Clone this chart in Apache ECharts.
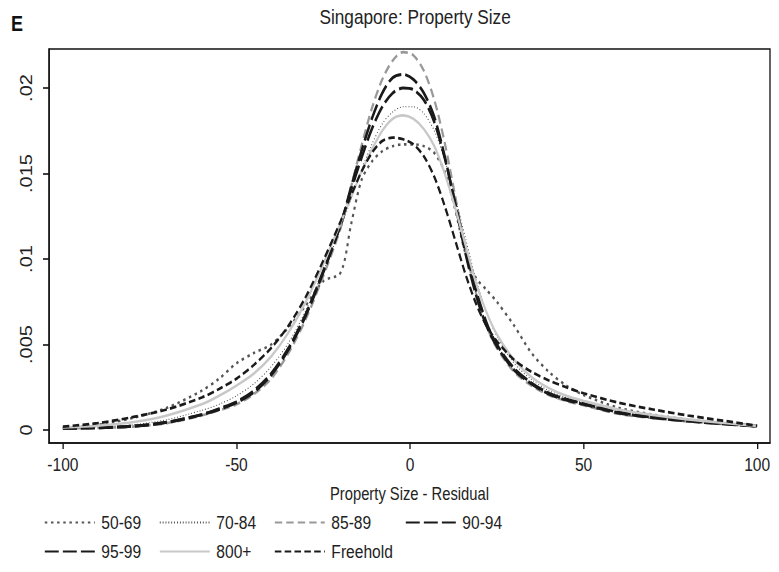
<!DOCTYPE html>
<html>
<head>
<meta charset="utf-8">
<title>Singapore: Property Size</title>
<script src="https://cdn.jsdelivr.net/npm/echarts@6/dist/echarts.min.js"></script>
<style>
  html, body { margin: 0; padding: 0; background: #fff; overflow: hidden; width: 779px; height: 572px; }
  /* The figure is laid out wide and compressed horizontally, which gives the
     tall, narrow lettering of the printed graph. */
  #chart { height: 572px; transform-origin: 0 0; }
</style>
</head>
<body>
<div id="chart"></div>
<script>
// Kernel density of the property-size residual, by lease group.
// Densities are stored in thousandths (x 1e-3).
const residual = [-100, -90, -80, -70, -60, -55, -50, -45, -40, -35, -30, -25, -20, -17, -14, -11, -8, -5, -2, 1, 4, 7, 10, 13, 16, 19, 22, 25, 30, 35, 40, 45, 50, 60, 70, 80, 90, 100];

const d50_69   = [0.12, 0.3, 0.7, 1.3, 2.3, 3.0, 3.9, 4.5, 5.0, 6.0, 7.3, 8.7, 9.2, 12.0, 14.6, 15.7, 16.3, 16.6, 16.7, 16.7, 16.6, 16.2, 15.1, 12.9, 10.3, 8.9, 8.2, 7.5, 6.1, 4.5, 3.4, 2.6, 2.05, 1.3, 0.9, 0.6, 0.4, 0.2];
const d70_84   = [0.12, 0.18, 0.3, 0.6, 1.15, 1.5, 2.0, 2.7, 3.7, 5.1, 7.0, 9.3, 11.8, 13.5, 15.2, 16.7, 17.9, 18.6, 18.9, 18.9, 18.5, 17.5, 15.8, 13.6, 11.2, 8.8, 6.9, 5.5, 3.9, 2.95, 2.3, 1.9, 1.6, 1.1, 0.8, 0.55, 0.4, 0.22];
const d85_89   = [0.1, 0.12, 0.2, 0.4, 0.85, 1.15, 1.5, 2.1, 3.0, 4.5, 6.5, 9.0, 11.8, 14.2, 16.6, 18.8, 20.5, 21.6, 22.1, 21.9, 21.0, 19.3, 16.8, 13.7, 10.6, 8.0, 6.1, 4.8, 3.4, 2.6, 2.05, 1.7, 1.45, 0.95, 0.7, 0.5, 0.35, 0.22];
const d90_94   = [0.1, 0.13, 0.22, 0.45, 0.9, 1.2, 1.6, 2.2, 3.2, 4.7, 6.7, 9.2, 12.0, 14.2, 16.3, 18.2, 19.7, 20.6, 20.8, 20.5, 19.7, 18.3, 16.0, 13.2, 10.3, 7.9, 6.1, 4.9, 3.5, 2.7, 2.1, 1.75, 1.5, 1.0, 0.72, 0.52, 0.36, 0.22];
const d95_99   = [0.1, 0.13, 0.22, 0.45, 0.9, 1.25, 1.65, 2.3, 3.3, 4.8, 6.8, 9.3, 12.0, 14.0, 15.9, 17.6, 18.9, 19.7, 20.0, 19.9, 19.3, 18.0, 15.9, 13.3, 10.6, 8.2, 6.3, 5.0, 3.6, 2.75, 2.15, 1.8, 1.55, 1.05, 0.75, 0.55, 0.38, 0.23];
const d800     = [0.15, 0.25, 0.45, 0.85, 1.5, 2.0, 2.6, 3.3, 4.3, 5.7, 7.5, 9.7, 12.1, 13.6, 15.1, 16.4, 17.5, 18.2, 18.4, 18.2, 17.6, 16.6, 15.0, 13.0, 10.8, 8.6, 6.9, 5.6, 4.1, 3.1, 2.45, 2.0, 1.7, 1.2, 0.88, 0.62, 0.42, 0.24];
const dFree    = [0.2, 0.4, 0.75, 1.2, 1.9, 2.4, 3.0, 3.8, 4.8, 6.1, 7.8, 9.9, 12.2, 13.7, 15.1, 16.2, 16.9, 17.1, 17.0, 16.7, 16.0, 14.8, 13.1, 11.1, 9.1, 7.4, 6.1, 5.2, 4.1, 3.4, 2.9, 2.5, 2.15, 1.6, 1.2, 0.85, 0.55, 0.25];

const xTicks = [-100, -50, 0, 50, 100];
const yTicks = [0, 0.005, 0.01, 0.015, 0.02];

// Horizontal compression of the whole figure; layout numbers below are
// given in final (on-screen) pixels and converted with sx().
const SX = 0.82;
const PAGE_W = 779;
const sx = v => v / SX;

const el = document.getElementById('chart');
el.style.width = sx(PAGE_W) + 'px';
el.style.transform = 'scaleX(' + SX + ')';

// Stata-like labels: drop the leading zero (".005")
const fmtY = v => (v === 0 ? '0' : String(+v.toFixed(3)).replace(/^0\./, '.'));

const groups = [
  { name: '50-69',    data: d50_69, color: '#555555', width: 2.6, type: [3, 4.5] },
  { name: '70-84',    data: d70_84, color: '#333333', width: 1.1, type: [1, 2.5] },
  { name: '85-89',    data: d85_89, color: '#999999', width: 2.7, type: [9, 5] },
  { name: '90-94',    data: d90_94, color: '#1a1a1a', width: 3,   type: [17, 5] },
  { name: '95-99',    data: d95_99, color: '#1a1a1a', width: 3,   type: [17, 5] },
  { name: '800+',     data: d800,   color: '#c8c8c8', width: 2.6, type: 'solid' },
  { name: 'Freehold', data: dFree,  color: '#1a1a1a', width: 2.7, type: [8, 4] }
];

const FONT = "'Liberation Sans', Arial, Helvetica, sans-serif";

const series = groups.map(g => ({
  name: g.name,
  type: 'line',
  smooth: 0.3,
  symbol: 'none',
  showSymbol: false,
  animation: false,
  data: residual.map((x, i) => [x, g.data[i] * 1e-3]),
  lineStyle: { color: g.color, width: g.width, type: g.type, cap: 'butt' },
  itemStyle: { color: g.color }
}));

const legendCol = (left, names) => ({
  orient: 'vertical',
  left: sx(left),
  top: 513,
  padding: 0,
  itemWidth: sx(50),
  itemHeight: 14,
  itemGap: 10,
  data: names,
  itemStyle: { opacity: 0 },
  textStyle: { fontFamily: FONT, fontSize: 19, color: '#222', padding: [0, 0, 0, 3] },
  selectedMode: false
});

const chart = echarts.init(el, null, { renderer: 'svg' });
chart.setOption({
  backgroundColor: '#ffffff',
  animation: false,
  title: [
    {
      text: 'Singapore: Property Size',
      left: sx(411),
      top: 1,
      textAlign: 'center',
      textStyle: { fontFamily: FONT, fontSize: 21, fontWeight: 'normal', color: '#222' }
    },
    {
      text: 'E',
      left: sx(7),
      top: 7,
      textStyle: { fontFamily: FONT, fontSize: 22, fontWeight: 'bold', color: '#111' }
    }
  ],
  legend: [
    legendCol(44, ['50-69', '95-99']),
    legendCol(159, ['70-84', '800+']),
    legendCol(274, ['85-89', 'Freehold']),
    legendCol(405, ['90-94'])
  ],
  grid: {
    left: sx(49), right: sx(9), top: 49, bottom: 129,
    show: true, borderColor: '#111', borderWidth: 1.6, backgroundColor: '#fff'
  },
  xAxis: {
    type: 'value',
    min: -104, max: 103.7,
    name: 'Property Size - Residual',
    nameLocation: 'middle',
    nameGap: 41,
    nameTextStyle: { fontFamily: FONT, fontSize: 18, color: '#222' },
    axisLine: { show: true, onZero: false, lineStyle: { color: '#111', width: 1.6 } },
    axisTick: { show: true, length: 6, inside: false, customValues: xTicks, lineStyle: { color: '#111', width: 1.6 } },
    axisLabel: { customValues: xTicks, margin: 12, fontFamily: FONT, fontSize: 19, color: '#222' },
    splitLine: { show: false }
  },
  yAxis: {
    type: 'value',
    min: -0.00076, max: 0.02228,
    axisLine: { show: true, onZero: false, lineStyle: { color: '#111', width: 1.6 } },
    axisTick: { show: true, length: sx(6), inside: false, customValues: yTicks, lineStyle: { color: '#111', width: 1.6 } },
    axisLabel: { customValues: yTicks, rotate: 90, margin: sx(15), formatter: fmtY, fontFamily: FONT, fontSize: 20, color: '#222' },
    splitLine: { show: false }
  },
  series: series
});
</script>
</body>
</html>
